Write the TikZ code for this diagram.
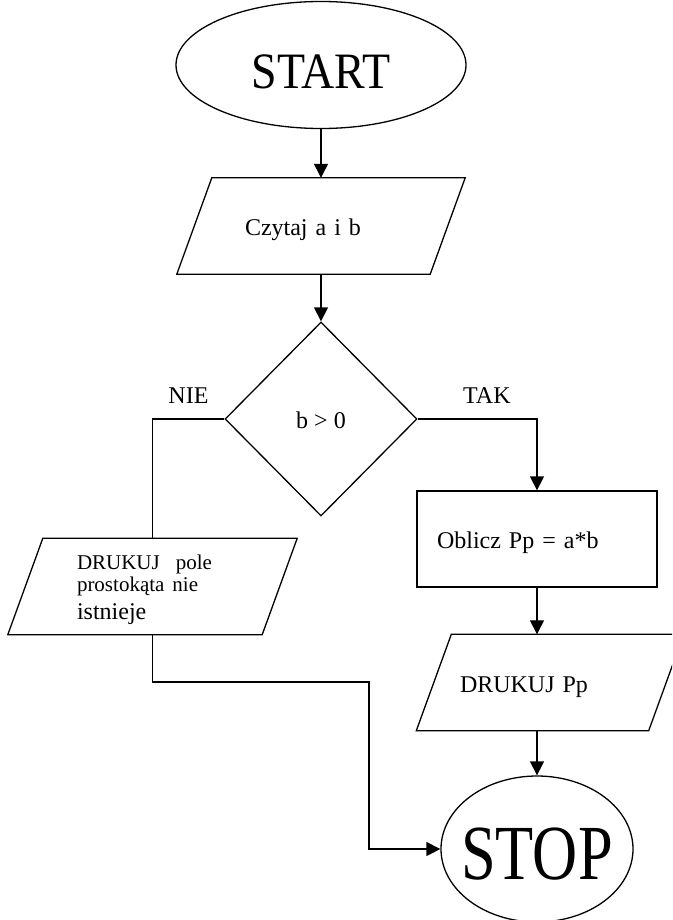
\documentclass[tikz,border=0pt]{standalone}
\usepackage{fontspec}
\setmainfont{Liberation Serif}
\usetikzlibrary{shapes.geometric,arrows.meta}

\tikzset{
  line/.style={line width=1.3pt},
  arr/.style={line, -{Triangle[length=14pt,width=14pt]}},
  term/.style={ellipse, draw, line width=1.3pt, inner sep=0pt, text depth=0pt},
  io/.style={rectangle, minimum height=96pt, align=left,
    font=\fontsize{24}{28}\selectfont},
  oneline/.style={text height=24pt, text depth=5pt},
  proc/.style={rectangle, draw, line width=1.3pt, minimum width=240pt,
    minimum height=96pt, align=left, font=\fontsize{24}{28}\selectfont},
  decision/.style={diamond, draw, line width=1.3pt, aspect=1, inner sep=0pt,
    minimum width=192pt, minimum height=194pt, font=\fontsize{24}{28}\selectfont},
  lbl/.style={font=\fontsize{24}{28}\selectfont}
}
% skosna ramka bloku wejscia/wyjscia
\newcommand{\ioframe}[1]{%
  \draw[line] ([xshift=17.5pt]#1.north west) -- ([xshift=17.5pt]#1.north east)
    -- ([xshift=-17.5pt]#1.south east) -- ([xshift=-17.5pt]#1.south west) -- cycle;}

\begin{document}
\begin{tikzpicture}[x=1pt,y=-1pt]
\useasboundingbox (0,0) rectangle (672,920);
\clip (0,0) rectangle (672,920);

% bloki
\node[term, minimum width=290pt, minimum height=127pt, text height=48pt] (start) at (321,65)
  {\fontsize{51}{51}\selectfont\makebox[0pt]{\scalebox{0.9}[1]{START}}};
\node[io, oneline, minimum width=253pt, text width=152pt] (read) at (321,226) {Czytaj a i b};
\node[decision, oneline] (cond) at (321,419) {b > 0};
\node[io, minimum width=254pt, text width=151pt] (nie) at (152.5,586.5)
  {\fontsize{21}{22}\selectfont\rule{0pt}{22pt}DRUKUJ\ \ pole\\ prostokąta nie\\
   \rule{0pt}{23pt}{\fontsize{24}{22}\selectfont istnieje}};
\node[proc, oneline, text width=200pt] (calc) at (537,539) {Oblicz Pp = a*b};
\node[io, oneline, minimum width=232pt, text width=180pt] (print) at (550,682.5) {DRUKUJ Pp};
\node[term, minimum width=192pt, minimum height=146pt, text height=60pt] (stop) at (537,849)
  {\fontsize{78}{78}\selectfont\makebox[0pt]{\scalebox{0.8}[1]{STOP}}};
\coordinate (turn) at (369,682);

\ioframe{read}
\ioframe{nie}
\ioframe{print}

% polaczenia
\draw[arr] (start) -- (read);
\draw[arr] (read) -- (cond);
\draw[line] (cond.west) -- node[lbl, above=12pt] {NIE} (nie.north |- cond.west) -- (nie.north);
\draw[arr] (cond.east) -- node[lbl, above=12pt, pos=0.58] {TAK} (calc.north |- cond.east) -- (calc.north);
\draw[arr] (calc.south) -- (calc.south |- print.north);
\draw[arr] (calc.south |- print.south) -- (stop.north);
\draw[arr] (nie.south) |- (turn) |- (stop.west);
\end{tikzpicture}
\end{document}
